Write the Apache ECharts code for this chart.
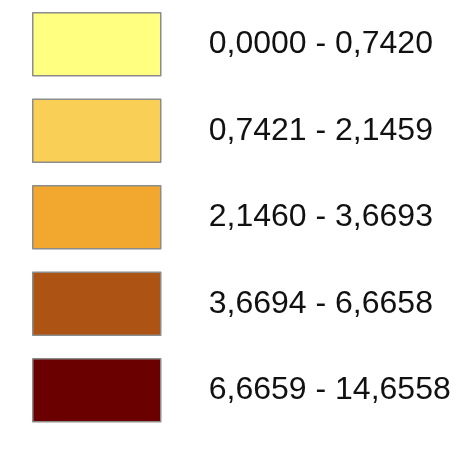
<!DOCTYPE html>
<html>
<head>
<meta charset="utf-8">
<script src="https://cdn.jsdelivr.net/npm/echarts@6/dist/echarts.min.js"></script>
<style>
html,body{margin:0;padding:0;background:#fff;}
#chart{width:459px;height:449px;}
</style>
</head>
<body>
<div id="chart"></div>
<script>
var classLabels = ['0,0000 - 0,7420', '0,7421 - 2,1459', '2,1460 - 3,6693', '3,6694 - 6,6658', '6,6659 - 14,6558'];
var classValues = [1, 1, 1, 1, 1];
var palette = ['#FFFF80', '#FACF55', '#F2A72E', '#AD5313', '#6B0000'];

var chart = echarts.init(document.getElementById('chart'), null, {renderer: 'canvas'});
chart.setOption({
  animation: false,
  color: palette,
  legend: {
    orient: 'vertical',
    left: 32,
    top: 12,
    padding: 0,
    itemWidth: 128,
    itemHeight: 63,
    itemGap: 22,
    icon: 'rect',
    selectedMode: false,
    itemStyle: {borderColor: '#8c8c8c', borderWidth: 1.5},
    textStyle: {
      fontFamily: 'Liberation Sans, Arial, sans-serif',
      fontSize: 32,
      color: '#111',
      padding: [0, 0, 0, 43]
    },
    data: classLabels
  },
  series: [{
    type: 'pie',
    radius: [0, 0],
    center: [-100, -100],
    silent: true,
    label: {show: false},
    labelLine: {show: false},
    data: classLabels.map(function (n, i) { return {name: n, value: classValues[i]}; })
  }]
});
</script>
</body>
</html>
